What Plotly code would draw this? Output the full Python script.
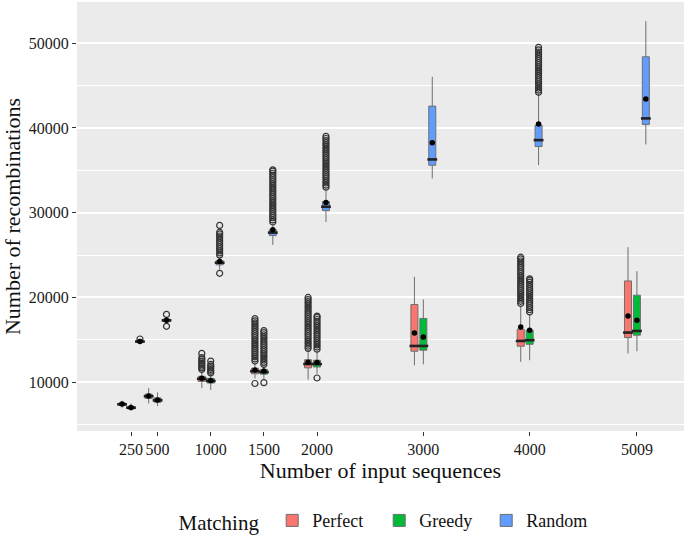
import plotly.graph_objects as go

# ---------------- data ----------------
sizes = [250, 500, 1000, 1500, 2000, 3000, 4000, 5009]
size_labels = ["250", "500", "1000", "1500", "2000", "3000", "4000", "5009"]
groups = ["Perfect", "Greedy", "Random"]
colors = {"Perfect": "#F8766D", "Greedy": "#00BA38", "Random": "#619CFF"}

perfect_q1 = [7250, 8100, 10100, 11000, 11700, 13660, 14250, 15270]
perfect_med = [7400, 8350, 10400, 11300, 12150, 14280, 14870, 15860]
perfect_q3 = [7550, 8600, 10700, 11650, 12650, 19170, 16250, 21950]
perfect_lo = [7000, 7500, 9300, 10450, 10300, 12010, 12400, 13390]
perfect_hi = [7800, 9300, 11200, 12300, 13800, 22430, 18900, 25930]
perfect_mean = [7420, 8380, 10480, 11450, 12350, 15820, 16530, 17820]
perfect_out = [
    [],
    [],
    [11500, 11700, 11900, 12100, 12300, 12500, 12700, 12900, 13400],
    [9850, 12500, 12750, 13000, 13250, 13500, 13750, 14000, 14250, 14500, 14750,
     15000, 15250, 15500, 15750, 16000, 16250, 16500, 16750, 17000, 17250, 17500],
    [14000, 14250, 14500, 14750, 15000, 15250, 15500, 15750, 16000, 16250, 16500,
     16750, 17000, 17250, 17500, 17750, 18000, 18250, 18500, 18750, 19000, 19250,
     19500, 19750, 20000],
    [],
    [19300, 19550, 19800, 20050, 20300, 20550, 20800, 21050, 21300, 21550, 21800,
     22050, 22300, 22550, 22800, 23050, 23300, 23550, 23800, 24050, 24300, 24550, 24750],
    [],
]

greedy_q1 = [6850, 7650, 9900, 10950, 11800, 13780, 14480, 15550]
greedy_med = [7000, 7870, 10150, 11200, 12150, 14280, 14960, 16050]
greedy_q3 = [7150, 8150, 10450, 11500, 12600, 17520, 16140, 20270]
greedy_lo = [6650, 7200, 9100, 10400, 11000, 12120, 12600, 13660]
greedy_hi = [7500, 8800, 11000, 11900, 13600, 19760, 18000, 23100]
greedy_mean = [7020, 7900, 10220, 11330, 12330, 15350, 16140, 17320]
greedy_out = [
    [],
    [],
    [11100, 11300, 11500, 11700, 11900, 12100, 12500],
    [9950, 12100, 12350, 12600, 12850, 13100, 13350, 13600, 13850, 14100, 14350,
     14600, 14850, 15100, 15350, 15600, 15850, 16100],
    [10500, 13900, 14150, 14400, 14650, 14900, 15150, 15400, 15650, 15900, 16150,
     16400, 16650, 16900, 17150, 17400, 17650, 17800],
    [],
    [18300, 18550, 18800, 19050, 19300, 19550, 19800, 20050, 20300, 20550, 20800,
     21050, 21300, 21550, 21800, 22050, 22200],
    [],
]

random_q1 = [14700, 17150, 23850, 27300, 30250, 35600, 37800, 40410]
random_med = [14800, 17300, 24100, 27650, 30700, 36280, 38560, 41120]
random_q3 = [14900, 17450, 24350, 28000, 31300, 42570, 40330, 48390]
random_lo = [14550, 16900, 23300, 26200, 28900, 34040, 35610, 38050]
random_hi = [15000, 17650, 24700, 28700, 32800, 46030, 44000, 52600]
random_mean = [14820, 17320, 24250, 28000, 31200, 38240, 40450, 43400]
random_out = [
    [15100],
    [18000, 16600],
    [22850, 25000, 25250, 25500, 25750, 26000, 26250, 26500, 26750, 27000, 27250,
     27500, 27700, 28500],
    [28900, 29150, 29400, 29650, 29900, 30150, 30400, 30650, 30900, 31150, 31400,
     31650, 31900, 32150, 32400, 32650, 32900, 33150, 33400, 33650, 33900, 34150,
     34400, 34650, 34900, 35050],
    [33000, 33250, 33500, 33750, 34000, 34250, 34500, 34750, 35000, 35250, 35500,
     35750, 36000, 36250, 36500, 36750, 37000, 37250, 37500, 37750, 38000, 38250,
     38500, 38750, 39000],
    [],
    [44200, 44450, 44700, 44950, 45200, 45450, 45700, 45950, 46200, 46450, 46700,
     46950, 47200, 47450, 47700, 47950, 48200, 48450, 48700, 48950, 49200, 49500],
    [],
]

stats = {
    "Perfect": (perfect_q1, perfect_med, perfect_q3, perfect_lo, perfect_hi, perfect_mean, perfect_out),
    "Greedy": (greedy_q1, greedy_med, greedy_q3, greedy_lo, greedy_hi, greedy_mean, greedy_out),
    "Random": (random_q1, random_med, random_q3, random_lo, random_hi, random_mean, random_out),
}

y_ticks = [10000, 20000, 30000, 40000, 50000]

# ---------------- layout constants ----------------
FONT = "Liberation Serif"
DODGE = 84      # dodge distance between boxes (x data units)
BOX_W = 66      # box width (x data units)

fig = go.Figure()

for k, g in enumerate(groups):
    q1, med, q3, lo, hi, mean, out = stats[g]
    off = (k - 1) * DODGE
    xs = [s + off for s in sizes]
    fig.add_trace(go.Box(
        name=g, x=xs,
        q1=q1, median=med, q3=q3, lowerfence=lo, upperfence=hi,
        width=BOX_W, fillcolor=colors[g],
        line=dict(color="#6e6e6e", width=1),
        whiskerwidth=0, boxpoints=False,
        showlegend=True, hoverinfo="skip",
    ))
    # outliers
    ox, oy = [], []
    for s, vals in zip(xs, out):
        for v in vals:
            ox.append(s)
            oy.append(v)
    fig.add_trace(go.Scatter(
        x=ox, y=oy, mode="markers",
        marker=dict(symbol="circle-open", size=6, color="#333333",
                    line=dict(width=1.2, color="#333333")),
        showlegend=False, hoverinfo="skip",
    ))
    # median bar
    fig.add_trace(go.Scatter(
        x=xs, y=med, mode="markers",
        marker=dict(symbol="line-ew", size=7, line=dict(width=2.6, color="#222222")),
        showlegend=False, hoverinfo="skip",
    ))
    # mean dot
    fig.add_trace(go.Scatter(
        x=xs, y=mean, mode="markers",
        marker=dict(symbol="circle", size=5.5, color="black"),
        showlegend=False, hoverinfo="skip",
    ))

fig.update_layout(
    width=685, height=539,
    margin=dict(l=77, r=1, t=2, b=108, autoexpand=False),
    paper_bgcolor="white", plot_bgcolor="#EBEBEB",
    boxmode="overlay",
    font=dict(family=FONT, color="#111111"),
    legend=dict(
        orientation="h", xref="container", yref="container",
        x=0.562, xanchor="center", y=0.033, yanchor="middle",
        title=dict(text="Matching ", side="left", font=dict(size=21, family=FONT)),
        font=dict(size=18, family=FONT), bgcolor="rgba(0,0,0,0)",
        entrywidth=62,
    ),
)

fig.update_xaxes(
    range=[-258, 5452], tickvals=sizes, ticktext=size_labels,
    showgrid=False, zeroline=False, showline=False, automargin=False,
    ticks="outside", ticklen=4, tickcolor="#333333",
    tickfont=dict(size=16, family=FONT, color="#1a1a1a"),
    title=dict(text="Number of input sequences", font=dict(size=22, family=FONT), standoff=1),
)
fig.update_yaxes(
    range=[4250, 54850], tickvals=y_ticks, tickformat="d",
    showgrid=True, gridcolor="white", gridwidth=1.6,
    zeroline=False, showline=False, automargin=False,
    ticks="outside", ticklen=4, tickcolor="#333333",
    tickfont=dict(size=16, family=FONT, color="#1a1a1a"),
    minor=dict(tick0=5000, dtick=10000, showgrid=True, gridcolor="white", gridwidth=0.7),
    title=dict(text="Number of recombinations", font=dict(size=22, family=FONT), standoff=8),
)

fig.write_html(
    "out.html",
    config={"displayModeBar": False},
    post_script="document.body.style.margin='0';document.body.style.padding='0';",
)
